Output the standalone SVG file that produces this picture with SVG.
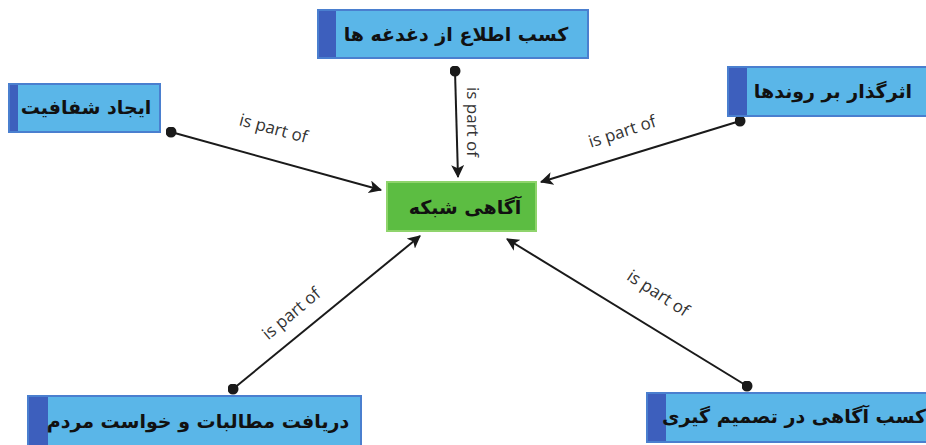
<svg xmlns="http://www.w3.org/2000/svg" width="926" height="445" viewBox="0 0 926 445">
<defs>
<marker id="arr" viewBox="0 0 12 12" refX="11" refY="6" markerWidth="13" markerHeight="13" markerUnits="userSpaceOnUse" orient="auto">
<path d="M0,0 L12,6 L0,12 L3,6 Z" fill="#1a1a1a"/>
</marker>
<marker id="dot" viewBox="0 0 10 10" refX="5" refY="5" markerWidth="11" markerHeight="11" markerUnits="userSpaceOnUse">
<circle cx="5" cy="5" r="5" fill="#1a1a1a"/>
</marker>
</defs>
<style>
.box{fill:#5ab6e8;stroke:#4a7fcf;stroke-width:2}
.strip{fill:#3d5fbd}
.center{fill:#5cbd42;stroke:#8fd46c;stroke-width:2}
.t{font-family:"DejaVu Sans",sans-serif;font-size:19px;font-weight:bold;fill:#111;text-anchor:middle;dominant-baseline:central}
.lbl{font-family:"Open Sans","DejaVu Sans",sans-serif;font-size:17px;fill:#333;text-anchor:middle}
.ln{stroke:#1a1a1a;stroke-width:2;fill:none;marker-start:url(#dot);marker-end:url(#arr)}
</style>
<rect width="926" height="445" fill="#ffffff"/>
<g id="connectors">
<line class="ln" x1="171" y1="132" x2="381" y2="190"/>
<line class="ln" x1="455" y1="71" x2="458" y2="177"/>
<line class="ln" x1="740" y1="121" x2="541" y2="182"/>
<line class="ln" x1="233" y1="389" x2="420" y2="236"/>
<line class="ln" x1="747" y1="386" x2="507" y2="239"/>
<text class="lbl" transform="translate(272,134) rotate(15)">is part of</text>
<text class="lbl" transform="translate(467,122) rotate(90)">is part of</text>
<text class="lbl" transform="translate(624,137) rotate(-18)">is part of</text>
<text class="lbl" transform="translate(295,318) rotate(-40)">is part of</text>
<text class="lbl" transform="translate(655,298) rotate(33)">is part of</text>
</g>
<g id="n-top">
<rect class="box" x="318" y="10" width="270" height="48"/>
<rect class="strip" x="319" y="11" width="17" height="46"/>
<text class="t" x="456" y="34">کسب اطلاع از دغدغه ها</text>
</g>
<g id="n-left">
<rect class="box" x="9" y="84" width="151" height="48"/>
<rect class="strip" x="10" y="85" width="8" height="46"/>
<text class="t" x="86" y="107">ایجاد شفافیت</text>
</g>
<g id="n-right">
<rect class="box" x="728" y="67" width="200" height="49"/>
<rect class="strip" x="729" y="68" width="18" height="47"/>
<text class="t" x="833" y="91">اثرگذار بر روندها</text>
</g>
<g id="n-center">
<rect class="center" x="387" y="182" width="149" height="49"/>
<text class="t" x="465" y="207">آگاهی شبکه</text>
</g>
<g id="n-bottom-left">
<rect class="box" x="28" y="396" width="333" height="50"/>
<rect class="strip" x="29" y="397" width="19" height="48"/>
<text class="t" x="198" y="421">دریافت مطالبات و خواست مردم</text>
</g>
<g id="n-bottom-right">
<rect class="box" x="647" y="393" width="281" height="49"/>
<rect class="strip" x="648" y="394" width="18" height="47"/>
<text class="t" x="794" y="416">کسب آگاهی در تصمیم گیری</text>
</g>
</svg>
